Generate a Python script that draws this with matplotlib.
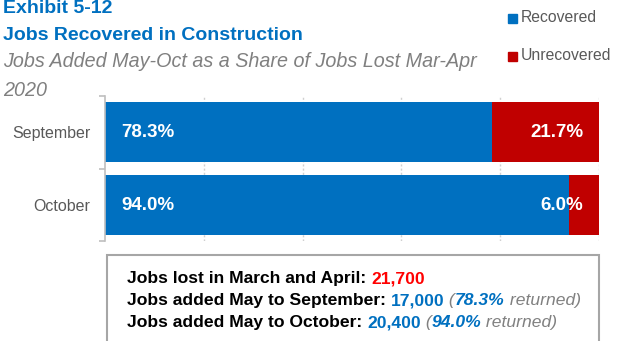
import matplotlib
matplotlib.use("Agg")
import matplotlib.pyplot as plt
from matplotlib.patches import Rectangle
from matplotlib.text import Annotation

plt.rcParams['font.family'] = ['Liberation Sans', 'DejaVu Sans']

# chart data
categories = ['September', 'October']
recovered = [78.3, 94.0]
unrecovered = [21.7, 6.0]
jobs_lost = 21700
jobs_added = [17000, 20400]
months_added = ['September', 'October']
series_names = ['Recovered', 'Unrecovered']

BLUE = '#0070C0'
RED = '#C00000'
GRAY = '#808080'

W, H = 618, 341
fig = plt.figure(figsize=(W / 100, H / 100), dpi=100)


def fx(px):
    return px / W


def fy(py):
    return 1 - py / H


# plot area in pixel coordinates (left, top, right, bottom)
L, T, R, B = 105, 96, 599, 241
ax = fig.add_axes([fx(L), fy(B), fx(R - L), (B - T) / H])

y = list(range(len(categories)))
bar_h = 0.83
ax.barh(y, recovered, height=bar_h, color=BLUE, zorder=2)
ax.barh(y, unrecovered, left=recovered, height=bar_h, color=RED, zorder=2)

for i in y:
    ax.annotate(f'{recovered[i]:.1f}%', (0, i), xytext=(11.5, -0.5),
                textcoords='offset points', ha='left', va='center',
                color='white', fontsize=13.5, fontweight='bold', zorder=3)
    ax.annotate(f'{unrecovered[i]:.1f}%', (recovered[i] + unrecovered[i], i),
                xytext=(-11.5, -0.5), textcoords='offset points', ha='right',
                va='center', color='white', fontsize=13.5, fontweight='bold',
                zorder=3)

ax.set_xlim(0, 100)
ax.set_ylim(len(categories) - 0.5, -0.5)
ax.set_xticks([20, 40, 60, 80, 100])
ax.grid(axis='x', color='#d0d0d0', linestyle=(0, (1.5, 1.5)), linewidth=1, zorder=0)
ax.tick_params(axis='x', length=0, labelbottom=False)

# category ticks sit between bars, labels on the centers
ax.set_yticks([i - 0.5 for i in range(len(categories) + 1)])
ax.set_yticklabels([])
ax.set_yticks(y, minor=True)
ax.set_yticklabels(categories, minor=True)
ax.tick_params(axis='y', which='major', length=4, width=1.2, color='#bfbfbf')
ax.tick_params(axis='y', which='minor', length=0, pad=10.5, labelsize=11.5,
               labelcolor='#595959')
for s in ['top', 'right', 'bottom']:
    ax.spines[s].set_visible(False)
ax.spines['left'].set_color('#bfbfbf')
ax.spines['left'].set_linewidth(1.2)

# headings
fig.text(fx(3), fy(13), 'Exhibit 5-12', color=BLUE, fontsize=14,
         fontweight='bold', va='baseline')
fig.text(fx(3), fy(40), 'Jobs Recovered in Construction', color=BLUE,
         fontsize=14, fontweight='bold', va='baseline')
fig.text(fx(3), fy(67), 'Jobs Added May-Oct as a Share of Jobs Lost Mar-Apr',
         color=GRAY, fontsize=14.2, style='italic', va='baseline')
fig.text(fx(3), fy(96), '2020', color=GRAY, fontsize=14.2, style='italic',
         va='baseline')

# legend
for k, (name, col) in enumerate(zip(series_names, [BLUE, RED])):
    cy = 18 + k * 38
    fig.add_artist(Rectangle((fx(508), fy(cy + 4.5)), fx(9), 9 / H,
                             transform=fig.transFigure, color=col))
    fig.text(fx(521), fy(cy), name, color='#595959', fontsize=11.3,
             va='center')

# summary box
fig.add_artist(Rectangle((fx(107), fy(345)), fx(599 - 107), (345 - 255) / H,
                         transform=fig.transFigure, facecolor='white',
                         edgecolor='#a6a6a6', linewidth=1.5, zorder=1))


def text_line(py, parts):
    first_txt, first_kw = parts[0]
    prev = fig.text(fx(127), fy(py), first_txt, fontsize=12.6,
                    va='baseline', zorder=4, **first_kw)
    for txt, kw in parts[1:]:
        prev = fig.add_artist(Annotation(txt, xy=(1, 0), xycoords=prev,
                                         va='bottom', ha='left',
                                         fontsize=12.6, zorder=4, **kw))


bold_k = dict(fontweight='bold', color='black')
text_line(283, [('Jobs lost in March and April: ', bold_k),
                (f'{jobs_lost:,}', dict(fontweight='bold', color='#FF0000'))])
for j, (month, added) in enumerate(zip(months_added, jobs_added)):
    share = added / jobs_lost * 100
    text_line(305 + 22 * j, [
        (f'Jobs added May to {month}: ', bold_k),
        (f'{added:,}', dict(fontweight='bold', color=BLUE)),
        (' (', dict(style='italic', color=GRAY)),
        (f'{share:.1f}%', dict(style='italic', fontweight='bold', color=BLUE)),
        (' returned)', dict(style='italic', color=GRAY)),
    ])

fig.savefig('out.png', dpi=100)
